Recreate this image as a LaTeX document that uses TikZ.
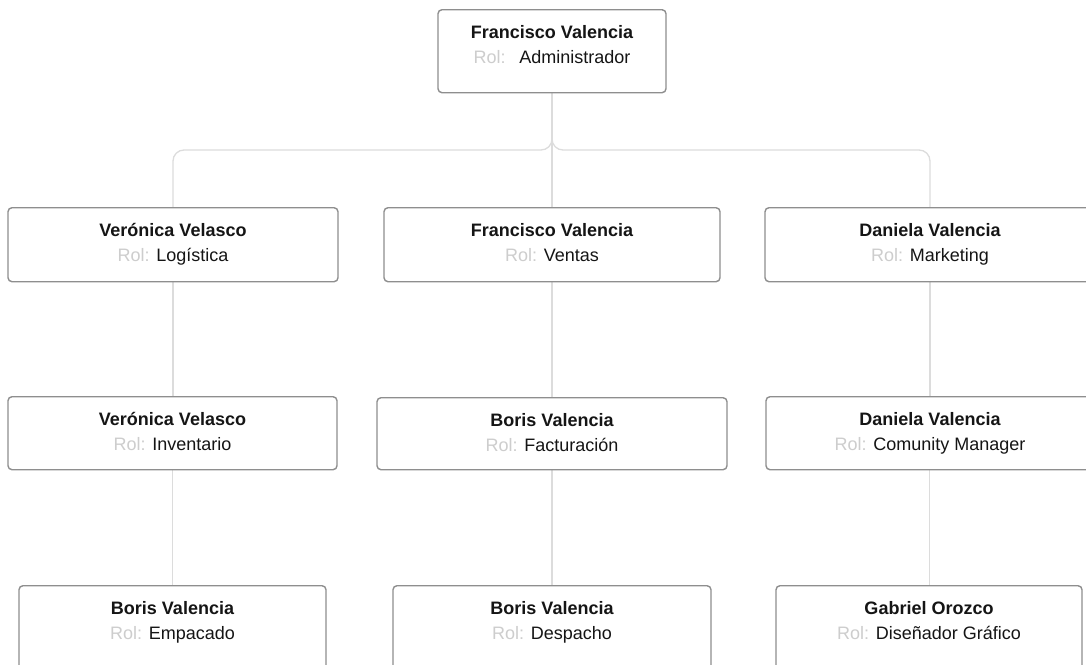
\documentclass[tikz,border=0pt]{standalone}
\usepackage{fontspec}
\setmainfont{Liberation Sans}
\usetikzlibrary{calc}
\definecolor{boxgray}{HTML}{8E8E8E}
\definecolor{linegray}{HTML}{DCDCDC}
\definecolor{rolgray}{HTML}{CDCDCD}
\definecolor{txt}{HTML}{151515}
\tikzset{
  orgnode/.style={draw=boxgray, line width=1.4pt, rounded corners=4pt, fill=white, inner sep=0pt},
  nametext/.style={font=\fontsize{18}{20}\selectfont\bfseries, text=txt, inner sep=0pt},
  roletext/.style={font=\fontsize{18}{20}\selectfont, text=txt, inner sep=0pt},
  conn/.style={draw=linegray, line width=1.3pt, rounded corners=11pt}
}
\newcommand{\orgbox}[7]{%
  \node[orgnode, minimum width=#4pt, minimum height=#5pt, anchor=north] (#1) at (#2,#3) {};
  \node[nametext, anchor=base] (#1n) at ($(#1.north)+(0,29)$) {#6};
  \node[roletext, anchor=base] (#1r) at ($(#1.north)+(0,54)$) {{\color{rolgray}Rol:} #7};
}
\begin{document}
\begin{tikzpicture}[x=1pt,y=-1pt]
\useasboundingbox (0,0) rectangle (1086,664);
\clip (0,0) rectangle (1086,664);
% connectors first (behind boxes)
\coordinate (bus) at (552,150);
\coordinate (topb) at (552,92);
\coordinate (l2at) at (173,207);
\coordinate (l2bt) at (552,207);
\coordinate (l2ct) at (930,207);
\draw[conn] (topb) -- (bus) -| (l2at);
\draw[conn] (topb) -- (bus) -| (l2ct);
\draw[conn] (topb) -- (l2bt);
\draw[conn] (173,281) -- (173,396);
\draw[conn] (552,281) -- (552,397);
\draw[conn] (930,281) -- (930,396);
\draw[conn] (172.5,469) -- (172.5,585);
\draw[conn] (552,469) -- (552,585);
\draw[conn] (929.5,469) -- (929.5,585);
% boxes
\orgbox{top}{552}{9}{228}{83}{Francisco Valencia}{\hspace{0.4em}Administrador}
\orgbox{la}{173}{207}{330}{74}{Verónica Velasco}{Logística}
\orgbox{lb}{552}{207}{336}{74}{Francisco Valencia}{Ventas}
\orgbox{lc}{930}{207}{330}{74}{Daniela Valencia}{Marketing}
\orgbox{ma}{172.5}{396}{329}{73}{Verónica Velasco}{Inventario}
\orgbox{mb}{552}{397}{350}{72}{Boris Valencia}{Facturación}
\orgbox{mc}{930}{396}{328}{73}{Daniela Valencia}{Comunity Manager}
\orgbox{ba}{172.5}{585}{307}{85}{Boris Valencia}{Empacado}
\orgbox{bb}{552}{585}{318}{85}{Boris Valencia}{Despacho}
\orgbox{bc}{929}{585}{306}{85}{Gabriel Orozco}{Diseñador Gráfico}
\end{tikzpicture}
\end{document}
